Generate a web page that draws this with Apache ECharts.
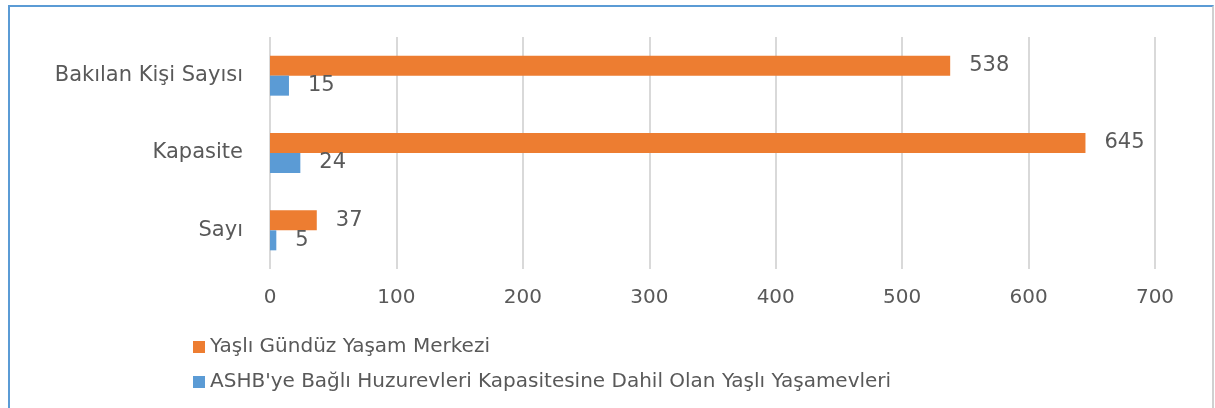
<!DOCTYPE html>
<html>
<head>
<meta charset="utf-8">
<script src="https://cdn.jsdelivr.net/npm/echarts@6/dist/echarts.min.js"></script>
<style>
    html, body { margin: 0; padding: 0; background: #fff; }
    #wrap { position: relative; width: 1215px; height: 408px; }
    #chart { width: 1215px; height: 408px; }
    #frame {
        position: absolute; left: 8px; top: 5px; width: 1202px; height: 420px;
        border-top: 2px solid #5b9bd5; border-left: 2px solid #5b9bd5;
        border-right: 2px solid #d0d0d0; pointer-events: none;
    }
</style>
</head>
<body>
<div id="wrap">
    <div id="chart"></div>
    <div id="frame"></div>
</div>
<script>
    // categories, bottom to top
    var categories = ['Sayı', 'Kapasite', 'Bakılan Kişi Sayısı'];
    var gunduzName = 'Yaşlı Gündüz Yaşam Merkezi';
    var yasamName = "ASHB'ye Bağlı Huzurevleri Kapasitesine Dahil Olan Yaşlı Yaşamevleri";
    var gunduzValues = [37, 645, 538];
    var yasamValues = [5, 24, 15];
    var xTicks = [0, 100, 200, 300, 400, 500, 600, 700];

    var font = '"DejaVu Sans", sans-serif';
    var textColor = '#595959';

    var labelStyle = {
        show: true,
        position: 'right',
        distance: 19,
        fontFamily: font,
        fontSize: 21,
        color: textColor
    };

    var chart = echarts.init(document.getElementById('chart'));
    var option = {
        animation: false,
        grid: {
            left: 270,
            right: 60,
            top: 37,
            bottom: 139
        },
        legend: {
            orient: 'vertical',
            left: 188,
            top: 332,
            itemGap: 15,
            itemWidth: 12,
            itemHeight: 12,
            itemTextGap: 6,
            icon: 'rect',
            data: [gunduzName, yasamName],
            textStyle: {
                fontFamily: font,
                fontSize: 20,
                color: textColor
            }
        },
        xAxis: {
            type: 'value',
            min: xTicks[0],
            max: xTicks[xTicks.length - 1],
            interval: 100,
            axisLine: {show: false},
            axisTick: {show: false},
            splitLine: {
                lineStyle: {color: '#d9d9d9', width: 2}
            },
            axisLabel: {
                margin: 19,
                fontFamily: font,
                fontSize: 20,
                color: textColor
            }
        },
        yAxis: {
            type: 'category',
            data: categories,
            axisLine: {show: false},
            axisTick: {show: false},
            axisLabel: {
                margin: 27,
                fontFamily: font,
                fontSize: 21,
                color: textColor
            }
        },
        series: [
            {
                name: gunduzName,
                type: 'bar',
                data: gunduzValues,
                barWidth: 20,
                barGap: '0%',
                itemStyle: {color: '#ed7d31'},
                label: labelStyle
            },
            {
                name: yasamName,
                type: 'bar',
                data: yasamValues,
                barWidth: 20,
                barGap: '0%',
                itemStyle: {color: '#5b9bd5'},
                label: labelStyle
            }
        ]
    };
    chart.setOption(option);
</script>
</body>
</html>
